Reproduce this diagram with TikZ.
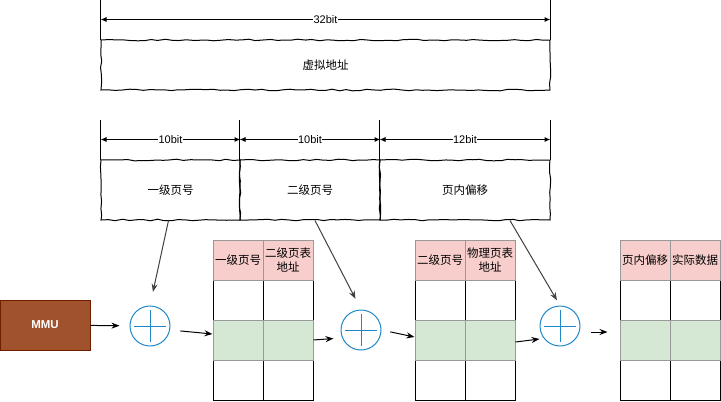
\documentclass[tikz,border=0pt]{standalone}
\usepackage{fontspec}
\setmainfont{Liberation Sans}
\newfontfamily\cjk{Noto Sans CJK SC}
\usetikzlibrary{arrows.meta,decorations.pathmorphing}

\begin{document}
\begin{tikzpicture}[x=1pt,y=-1pt,
    sketchbox/.style={draw,line width=1pt,decorate,decoration={random steps,segment length=7pt,amplitude=0.8pt},inner sep=0pt,font=\cjk\fontsize{11.5}{14}\selectfont},
    dimline/.style={line width=1pt,{Latex[length=6pt,width=5pt]}-{Latex[length=6pt,width=5pt]}},
    dimtext/.style={fill=white,inner sep=0.5pt,font=\fontsize{11}{13}\selectfont},
    cell/.style={draw=black,line width=1pt,minimum width=50pt,minimum height=40pt,inner sep=0pt},
    headcell/.style={cell,draw=r153g153b153,fill=r248g206b204,align=center,font=\cjk\fontsize{11.5}{14}\selectfont},
    hitcell/.style={cell,draw=r153g153b153,fill=r213g232b212},
    adder/.style={circle,draw=r30g136b200,line width=1pt,minimum size=40pt,inner sep=0pt,
      path picture={\draw[r30g136b200,line width=1pt]
        ([xshift=-16pt]path picture bounding box.center) -- ([xshift=16pt]path picture bounding box.center)
        ([yshift=-16pt]path picture bounding box.center) -- ([yshift=16pt]path picture bounding box.center);}},
    link/.style={line width=1pt,-{Stealth[length=8pt,width=6pt]}}]

% Colors
\definecolor{r248g206b204}{RGB}{248,206,204}%
\definecolor{r213g232b212}{RGB}{213,232,212}%
\definecolor{r153g153b153}{RGB}{153,153,153}%
\definecolor{r30g136b200}{RGB}{30,136,200}%
\definecolor{r160g82b45}{RGB}{160,82,45}%
\definecolor{r109g31b0}{RGB}{109,31,0}%
\pgfmathsetseed{7}

\useasboundingbox (0,0) rectangle (721,402);

% Virtual address, 32 bit
\node[sketchbox,minimum width=449pt,minimum height=50pt] (vaddr) at (325.5,65) {虚拟地址};
\draw[line width=1pt] (vaddr.north west) -- ++(0,-40);
\draw[line width=1pt] (vaddr.north east) -- ++(0,-40);
\draw[dimline] ([yshift=20pt]vaddr.north west) -- node[dimtext] {32bit} ([yshift=20pt]vaddr.north east);

% Split address: 10 / 10 / 12 bit
\node[sketchbox,minimum width=139pt,minimum height=60pt] (l1) at (170.5,190) {一级页号};
\node[sketchbox,minimum width=140pt,minimum height=60pt] (l2) at (310,190) {二级页号};
\node[sketchbox,minimum width=170pt,minimum height=60pt] (off) at (465,190) {页内偏移};
\draw[line width=1pt] (l1.north west) -- ++(0,-40);
\draw[line width=1pt] (l2.north west) -- ++(0,-40);
\draw[line width=1pt] (off.north west) -- ++(0,-40);
\draw[line width=1pt] (off.north east) -- ++(0,-40);
\draw[dimline] ([yshift=20pt]l1.north west) -- node[dimtext] {10bit} ([yshift=20pt]l1.north east);
\draw[dimline] ([yshift=20pt]l2.north west) -- node[dimtext] {10bit} ([yshift=20pt]l2.north east);
\draw[dimline] ([yshift=20pt]off.north west) -- node[dimtext] {12bit} ([yshift=20pt]off.north east);

% MMU
\node[draw=r109g31b0,fill=r160g82b45,line width=1pt,minimum width=90pt,minimum height=50pt,text=white,font=\bfseries\fontsize{11.5}{14}\selectfont] (mmu) at (45,325) {MMU};

% Adders
\node[adder] (add1) at (150,326) {};
\node[adder] (add2) at (361,330) {};
\node[adder] (add3) at (560,326) {};

% Table 1
\node[cell] (t1r1a) at (238,300) {};
\node[cell] (t1r1b) at (288,300) {};
\node[cell] (t1r3a) at (238,380) {};
\node[cell] (t1r3b) at (288,380) {};
\node[headcell] (t1ha) at (238,260) {一级页号};
\node[headcell] (t1hb) at (288,260) {二级页表\\地址};
\node[hitcell] (t1r2a) at (238,340) {};
\node[hitcell] (t1r2b) at (288,340) {};

% Table 2
\node[cell] (t2r1a) at (440,300) {};
\node[cell] (t2r1b) at (490,300) {};
\node[cell] (t2r3a) at (440,380) {};
\node[cell] (t2r3b) at (490,380) {};
\node[headcell] (t2ha) at (440,260) {二级页号};
\node[headcell] (t2hb) at (490,260) {物理页表\\地址};
\node[hitcell] (t2r2a) at (440,340) {};
\node[hitcell] (t2r2b) at (490,340) {};

% Table 3
\node[cell] (t3r1a) at (645,300) {};
\node[cell] (t3r1b) at (695,300) {};
\node[cell] (t3r3a) at (645,380) {};
\node[cell] (t3r3b) at (695,380) {};
\node[headcell] (t3ha) at (645,260) {页内偏移};
\node[headcell] (t3hb) at (695,260) {实际数据};
\node[hitcell] (t3r2a) at (645,340) {};
\node[hitcell] (t3r2b) at (695,340) {};

% Arrows
\draw[link,shorten >=10pt] (mmu) -- (add1);
\draw[link,draw=black!75,shorten >=14pt] ([xshift=-2pt]l1.south) -- (add1.north);
\draw[link,draw=black!75,shorten >=12pt] ([xshift=5pt]l2.south) -- (add2.north);
\draw[link,draw=black!75,shorten >=6pt] ([xshift=45pt]off.south) -- (add3.north);
\draw[link,shorten <=10pt] ([yshift=-4pt]add1.east) -- ([yshift=6pt]t1r2a.west);
\draw[link,shorten >=7pt] (t1r2b.east) -- ([yshift=-8pt]add2.west);
\draw[link,shorten <=9pt] (add2.east) -- ([yshift=3pt]t2r2a.west);
\draw[link] ([yshift=-2pt]t2r2b.east) -- ([yshift=-13pt]add3.west);
\draw[link,shorten <=10pt,shorten >=12pt] ([yshift=-6pt]add3.east) -- ([yshift=8pt]t3r2a.west);
\end{tikzpicture}
\end{document}
